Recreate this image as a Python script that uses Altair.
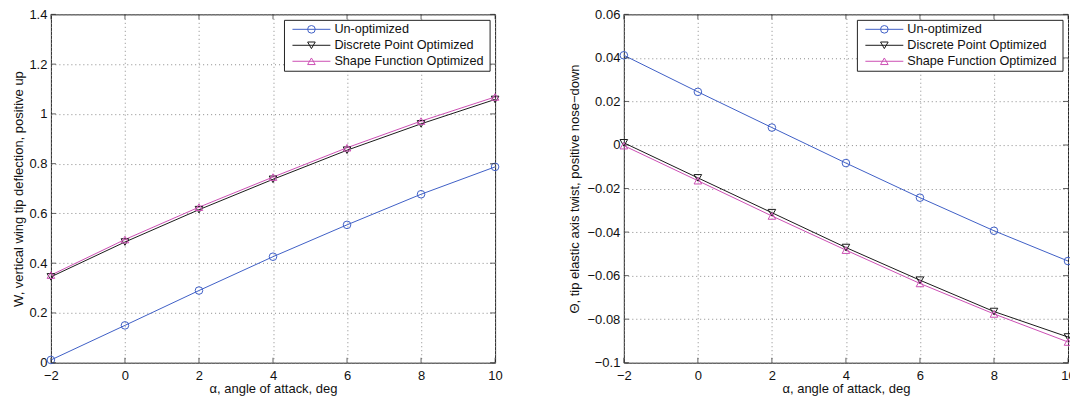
import altair as alt
import pandas as pd

alpha = [-2, 0, 2, 4, 6, 8, 10]
series = ["Un-optimized", "Discrete Point Optimized", "Shape Function Optimized"]
colors = ["#3f5fc6", "#1a1a1a", "#cc4fb4"]
shapes = ["circle", "triangle-down", "triangle-up"]

w_unopt = [0.011, 0.150, 0.290, 0.426, 0.554, 0.677, 0.787]
w_discrete = [0.345, 0.485, 0.615, 0.737, 0.854, 0.960, 1.058]
w_shape = [0.352, 0.495, 0.625, 0.746, 0.864, 0.971, 1.068]

t_unopt = [0.0412, 0.0244, 0.0080, -0.0083, -0.0242, -0.0394, -0.0533]
t_discrete = [0.0010, -0.0151, -0.0311, -0.0471, -0.0621, -0.0765, -0.0882]
t_shape = [-0.0003, -0.0164, -0.0326, -0.0483, -0.0636, -0.0776, -0.0905]

x_ticks = [-2, 0, 2, 4, 6, 8, 10]
w_ticks = [0, 0.2, 0.4, 0.6, 0.8, 1.0, 1.2, 1.4]
t_ticks = [-0.1, -0.08, -0.06, -0.04, -0.02, 0, 0.02, 0.04, 0.06]

x_title = "α, angle of attack, deg"
w_title = "W, vertical wing tip deflection, positive up"
t_title = "Θ, tip elastic axis twist, positive nose−down"

W, H = 445, 349
FONT = "Liberation Sans"
FS = 13
GRID = "#8a8a8a"
EDGE = "#222222"


def panel(values_list, ydomain, yticks, ytitle, yfmt, title_pad):
    rows = []
    for name, vals in zip(series, values_list):
        for a, v in zip(alpha, vals):
            rows.append({"alpha": a, "value": v, "series": name})
    df = pd.DataFrame(rows)

    x = alt.X("alpha:Q", scale=alt.Scale(domain=[min(x_ticks), max(x_ticks)], nice=False),
              axis=alt.Axis(values=x_ticks, title=x_title, format="d", grid=True,
                            gridDash=[1, 3], gridColor=GRID, gridWidth=1,
                            domain=False, tickSize=0, labelPadding=7, titlePadding=0,
                            labelFont=FONT, titleFont=FONT, labelFontSize=FS,
                            titleFontSize=FS, titleFontWeight="normal",
                            labelColor="#111", titleColor="#111", labelFlush=False))
    y = alt.Y("value:Q", scale=alt.Scale(domain=ydomain, nice=False, zero=False),
              axis=alt.Axis(values=yticks, title=ytitle, format=yfmt, grid=True,
                            gridDash=[1, 3], gridColor=GRID, gridWidth=1,
                            domain=False, tickSize=0, labelPadding=4, titlePadding=title_pad,
                            labelFont=FONT, titleFont=FONT, labelFontSize=FS,
                            titleFontSize=FS, titleFontWeight="normal",
                            labelColor="#111", titleColor="#111", labelFlush=False))
    color = alt.Color("series:N", scale=alt.Scale(domain=series, range=colors), legend=None)
    shape = alt.Shape("series:N", scale=alt.Scale(domain=series, range=shapes), legend=None)

    base = alt.Chart(df)
    lines = base.mark_line(strokeWidth=1).encode(x=x, y=y, color=color)
    pts = base.mark_point(filled=False, size=58, strokeWidth=1, opacity=1).encode(
        x=x, y=y, color=color, shape=shape)

    xt = pd.DataFrame({"alpha": x_ticks})
    yt = pd.DataFrame({"value": yticks})
    tick_bot = alt.Chart(xt).mark_tick(size=5, thickness=1, color=EDGE, orient="vertical").encode(
        x=x, y=alt.value(H - 2.5))
    tick_top = alt.Chart(xt).mark_tick(size=5, thickness=1, color=EDGE, orient="vertical").encode(
        x=x, y=alt.value(2.5))
    tick_left = alt.Chart(yt).mark_tick(size=5, thickness=1, color=EDGE, orient="horizontal").encode(
        y=y, x=alt.value(2.5))
    tick_right = alt.Chart(yt).mark_tick(size=5, thickness=1, color=EDGE, orient="horizontal").encode(
        y=y, x=alt.value(W - 2.5))

    one = pd.DataFrame({"k": [0]})
    legend_layers = [
        alt.Chart(one).mark_rect(fill="white", stroke=EDGE, strokeWidth=1).encode(
            x=alt.value(234), x2=alt.value(440), y=alt.value(6), y2=alt.value(57))
    ]
    for i, (name, c, s) in enumerate(zip(series, colors, shapes)):
        yy = 15 + 16 * i
        legend_layers.append(alt.Chart(one).mark_rule(color=c, strokeWidth=1).encode(
            x=alt.value(242), x2=alt.value(280), y=alt.value(yy)))
        legend_layers.append(alt.Chart(one).mark_point(shape=s, filled=False, color=c, size=58,
                                                        strokeWidth=1, opacity=1).encode(
            x=alt.value(261), y=alt.value(yy)))
        legend_layers.append(alt.Chart(one).mark_text(align="left", baseline="middle", font=FONT,
                                                       fontSize=12.7, color="#111").encode(
            x=alt.value(284), y=alt.value(yy), text=alt.value(name)))

    return alt.layer(lines, pts, tick_bot, tick_top, tick_left, tick_right,
                     *legend_layers).properties(width=W, height=H)


left = panel([w_unopt, w_discrete, w_shape], [0, 1.4], w_ticks, w_title, ".1~f", 3.5)
right = panel([t_unopt, t_discrete, t_shape], [-0.1, 0.06], t_ticks, t_title, ".2~f", 5.5)

chart = alt.hconcat(left, right, spacing=129, bounds="flush").properties(
    padding={"left": 3, "top": -1, "right": -6, "bottom": 0}
).configure_view(stroke=EDGE, strokeWidth=1)

chart.save("out.html", embed_options={"renderer": "svg", "actions": False})
